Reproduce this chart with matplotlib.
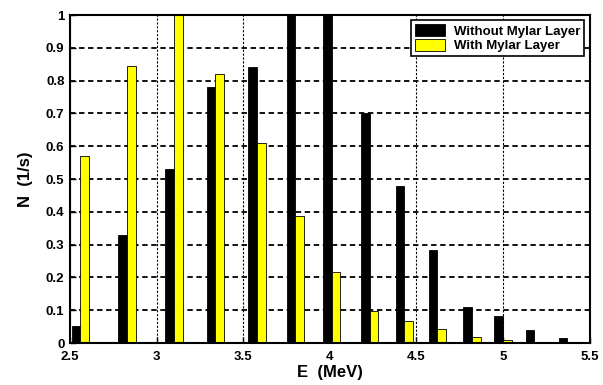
import numpy as np
import matplotlib
matplotlib.use("Agg")
import matplotlib.pyplot as plt

# energy bins (MeV), centre of each bar pair
energy = [2.56, 2.83, 3.10, 3.34, 3.58, 3.80, 4.01, 4.23, 4.43, 4.62, 4.82, 5.00, 5.18, 5.37]
# count rate without mylar layer (1/s)
without_mylar = [0.053, 0.33, 0.53, 0.78, 0.84, 1.0, 1.0, 0.70, 0.478, 0.285, 0.11, 0.083, 0.04, 0.014]
# count rate with mylar layer (1/s)
with_mylar = [0.57, 0.845, 1.0, 0.82, 0.61, 0.387, 0.218, 0.099, 0.068, 0.043, 0.019, 0.01, 0.0, 0.0]

x_ticks = [2.5, 3, 3.5, 4, 4.5, 5, 5.5]
y_ticks = [0, 0.1, 0.2, 0.3, 0.4, 0.5, 0.6, 0.7, 0.8, 0.9, 1]

plt.rcParams['font.family'] = ['Liberation Sans', 'DejaVu Sans']
plt.rcParams['font.weight'] = 'bold'

fig = plt.figure(figsize=(6.03, 3.85), dpi=100)
ax = fig.add_axes([0.116, 0.109, 0.862, 0.852])

w = 0.05
x = np.array(energy)
ax.bar(x - w / 2, without_mylar, width=w, color='black', edgecolor='black',
       linewidth=0.6, label='Without Mylar Layer', zorder=3)
ax.bar(x + w / 2, with_mylar, width=w, color='#ffff00', edgecolor='black',
       linewidth=0.6, label='With Mylar Layer', zorder=3)

ax.set_xlim(2.5, 5.5)
ax.set_ylim(0, 1)
ax.set_xticks(x_ticks)
ax.set_xticklabels([f"{t:g}" for t in x_ticks])
ax.set_yticks(y_ticks)
ax.set_yticklabels([f"{t:g}" for t in y_ticks])
ax.tick_params(direction='in', length=4, width=1, labelsize=9.5)
ax.tick_params(axis='x', pad=6)
ax.tick_params(axis='y', pad=4)

ax.yaxis.grid(True, color='black', linestyle=(0, (3, 2)), linewidth=1.3, zorder=1)
ax.xaxis.grid(True, color='black', linestyle=(0, (2, 1.5)), linewidth=0.8, zorder=1)
ax.set_axisbelow(True)
for s in ax.spines.values():
    s.set_linewidth(1.5)
    s.set_zorder(5)

ax.set_xlabel("E  (MeV)", fontsize=12, fontweight='bold', labelpad=1)
ax.set_ylabel("N  (1/s)", fontsize=12, fontweight='bold', labelpad=9)

leg = ax.legend(loc='upper right', fontsize=9.5, frameon=True, fancybox=False,
                edgecolor='black', framealpha=1, borderpad=0.3, labelspacing=0.1,
                handlelength=2.3, handleheight=1.0, handletextpad=0.7,
                borderaxespad=0.4)
leg.get_frame().set_linewidth(1.2)

fig.savefig("out.png", dpi=100)
